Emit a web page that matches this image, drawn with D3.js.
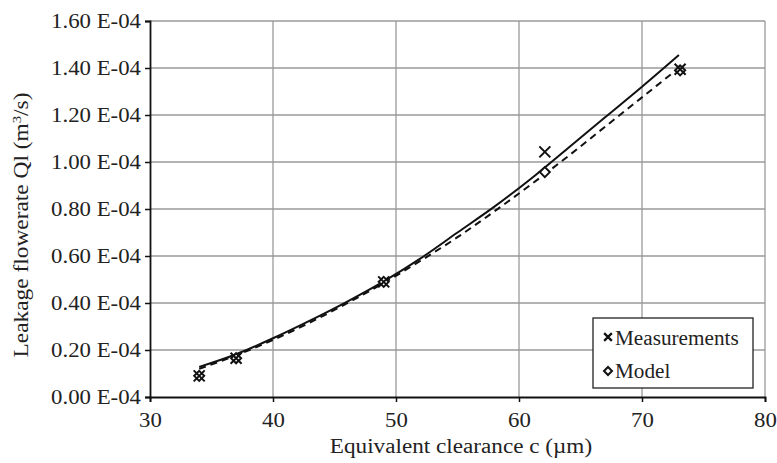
<!DOCTYPE html>
<html>
<head>
<meta charset="utf-8">
<script src="https://cdn.jsdelivr.net/npm/d3@7"></script>
<style>
  body { margin: 0; background: #fff; }
  text { font-family: "Liberation Serif", "Times New Roman", serif; fill: #222; }
</style>
</head>
<body>
<svg id="chart" width="777" height="463"></svg>
<script>
// measured points (x = clearance in µm, y in units of 1E-04 m3/s)
const clearance = [34, 37, 49, 62.1, 73.1];
const measured = [0.09, 0.165, 0.49, 1.043, 1.395];
const modelled = [0.09, 0.165, 0.49, 0.957, 1.39];

// trend lines
const trendX = [34, 37, 40, 43, 46, 49, 52, 55, 58, 61, 64, 67, 70, 73];
const trendMeas = [0.128, 0.182, 0.25, 0.325, 0.405, 0.492, 0.59, 0.70, 0.81, 0.93, 1.06, 1.19, 1.32, 1.455];
const trendModel = [0.12, 0.177, 0.243, 0.317, 0.398, 0.485, 0.58, 0.68, 0.79, 0.905, 1.025, 1.15, 1.275, 1.40];

const xTicks = [30, 40, 50, 60, 70, 80];
const yTicks = [0, 0.2, 0.4, 0.6, 0.8, 1.0, 1.2, 1.4, 1.6];

const svg = d3.select("#chart");
const pLeft = 150, pRight = 765, pTop = 21, pBottom = 397;

let x = d3.scaleLinear().domain([30, 80]).range([pLeft, pRight]);
let y = d3.scaleLinear().domain([0, 1.6]).range([pBottom, pTop]);

// the source font is a bit wider than Liberation Serif
function stretch(sel, k) {
    sel.each(function () {
        let w = this.getComputedTextLength();
        d3.select(this).attr("textLength", w * k).attr("lengthAdjust", "spacingAndGlyphs");
    });
}

// grid
let grid = svg.append("g");
grid.selectAll("line.h")
    .data(yTicks.slice(1))
    .enter().append("line")
    .attr("x1", pLeft).attr("x2", pRight)
    .attr("y1", d => y(d)).attr("y2", d => y(d))
    .attr("stroke", "#9a9a9a").attr("stroke-width", 1.3);
grid.selectAll("line.v")
    .data(xTicks.slice(1))
    .enter().append("line")
    .attr("y1", pTop).attr("y2", pBottom)
    .attr("x1", d => x(d)).attr("x2", d => x(d))
    .attr("stroke", "#9a9a9a").attr("stroke-width", 1.3);

// axes
let yAxis = d3.axisLeft(y).tickValues(yTicks).tickSize(5).tickPadding(4)
    .tickFormat(d => d3.format(".2f")(d) + " E-04");
let gy = svg.append("g").attr("transform", "translate(" + pLeft + ",0)").call(yAxis);
let xAxis = d3.axisBottom(x).tickValues(xTicks).tickSize(5).tickPadding(11);
let gx = svg.append("g").attr("transform", "translate(0," + pBottom + ")").call(xAxis);
[gy, gx].forEach(g => {
    g.select(".domain").attr("stroke", "#111").attr("stroke-width", 1.8);
    g.selectAll(".tick line").attr("stroke", "#111").attr("stroke-width", 1.5);
    g.selectAll(".tick text").style("font-size", "20px")
        .style("font-family", "'Liberation Serif', serif").attr("fill", "#222")
        .call(stretch, 1.14);
});

// axis titles
svg.append("text")
    .attr("x", 461).attr("y", 453)
    .attr("text-anchor", "middle")
    .style("font-size", "20.5px")
    .text("Equivalent clearance c (µm)")
    .call(stretch, 1.13);

let yt = svg.append("text")
    .attr("transform", "translate(28,225) rotate(-90) scale(1.14,1)")
    .attr("text-anchor", "middle")
    .style("font-size", "20.5px");
yt.append("tspan").text("Leakage flowerate Ql (m");
yt.append("tspan").attr("dy", -7).style("font-size", "13px").text("3");
yt.append("tspan").attr("dy", 7).text("/s)");

// trend lines
let line = d3.line().x(d => x(d[0])).y(d => y(d[1])).curve(d3.curveMonotoneX);
svg.append("path")
    .attr("d", line(d3.zip(trendX, trendModel)))
    .attr("fill", "none").attr("stroke", "#111").attr("stroke-width", 2)
    .attr("stroke-dasharray", "7,5");
svg.append("path")
    .attr("d", line(d3.zip(trendX, trendMeas)))
    .attr("fill", "none").attr("stroke", "#111").attr("stroke-width", 2);

// markers
const crossPath = "M-5.5,-5.5L5.5,5.5M-5.5,5.5L5.5,-5.5";
const diamondPath = "M0,-5L5,0L0,5L-5,0Z";
svg.append("g").selectAll("path")
    .data(d3.zip(clearance, modelled))
    .enter().append("path")
    .attr("transform", d => "translate(" + x(d[0]) + "," + y(d[1]) + ")")
    .attr("d", diamondPath)
    .attr("fill", "#fff").attr("stroke", "#111").attr("stroke-width", 2);
svg.append("g").selectAll("path")
    .data(d3.zip(clearance, measured))
    .enter().append("path")
    .attr("transform", d => "translate(" + x(d[0]) + "," + y(d[1]) + ")")
    .attr("d", crossPath)
    .attr("fill", "none").attr("stroke", "#111").attr("stroke-width", 2);

// legend
let lg = svg.append("g").attr("transform", "translate(593,318)");
lg.append("rect").attr("width", 160).attr("height", 70)
    .attr("fill", "#fff").attr("stroke", "#222").attr("stroke-width", 1.3);
lg.append("path").attr("transform", "translate(15,19) scale(0.7)").attr("d", crossPath)
    .attr("fill", "none").attr("stroke", "#111").attr("stroke-width", 3.2);
lg.append("text").attr("x", 22).attr("y", 27).style("font-size", "20px").text("Measurements")
    .call(stretch, 1.06);
lg.append("path").attr("transform", "translate(15,53) scale(0.8)").attr("d", diamondPath)
    .attr("fill", "#fff").attr("stroke", "#111").attr("stroke-width", 2.5);
lg.append("text").attr("x", 22).attr("y", 60).style("font-size", "20px").text("Model")
    .call(stretch, 1.06);
</script>
</body>
</html>
